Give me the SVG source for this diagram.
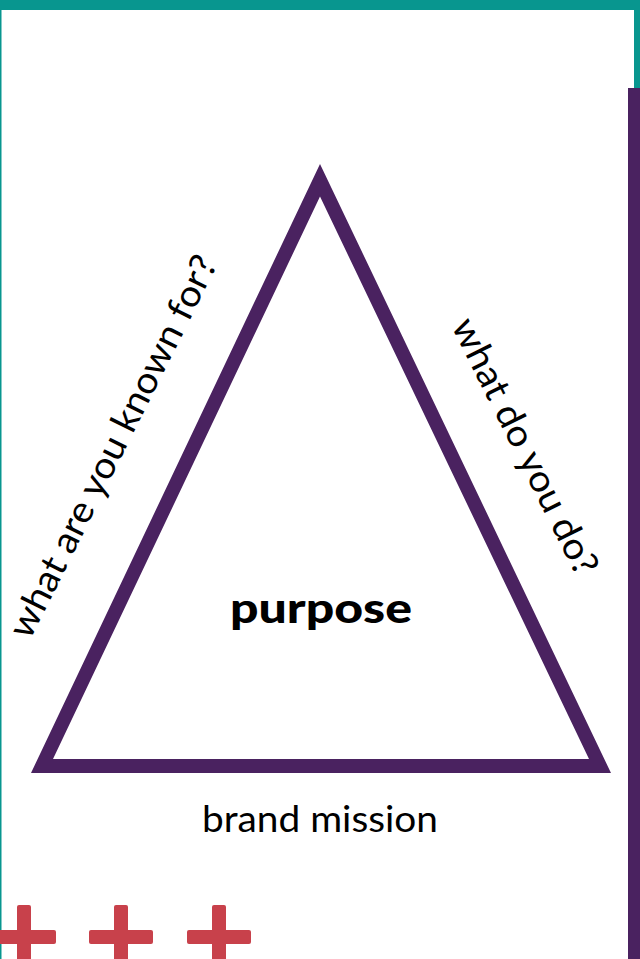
<svg xmlns="http://www.w3.org/2000/svg" width="640" height="959" viewBox="0 0 640 959">
<style>
.teal{fill:#08968F}
.purple{fill:#4A2260}
.cross{fill:#C8414B}
.lbl{font-family:Lato,"Liberation Sans",sans-serif;font-size:37px;fill:#000}
.bold{font-family:Lato,"Liberation Sans",sans-serif;font-size:41px;font-weight:900;fill:#000}
</style>
<rect width="640" height="959" fill="#fff"/>
<g id="frame">
<rect class="teal" x="0" y="0" width="640" height="10"/>
<rect class="teal" x="0" y="0" width="1.5" height="959"/>
<rect class="teal" x="634" y="0" width="6" height="88"/>
<rect class="purple" x="628" y="88" width="12" height="871"/>
</g>
<g id="triangle">
<path class="purple" fill-rule="evenodd" d="M320,164 L31,773 L611,773 Z M320,196.5 L53,759 L589,759 Z"/>
</g>
<g id="purpose"><text class="bold" x="321" y="623" text-anchor="middle" textLength="182" lengthAdjust="spacingAndGlyphs">purpose</text></g>
<g id="mission"><text class="lbl" x="320" y="832" text-anchor="middle" textLength="236" lengthAdjust="spacingAndGlyphs">brand mission</text></g>
<g id="known"><text class="lbl" transform="translate(124,452) rotate(-63.5)" x="0" y="0" text-anchor="middle" textLength="422" lengthAdjust="spacingAndGlyphs">what are you known for?</text></g>
<g id="do"><text class="lbl" transform="translate(514,452) rotate(63.5)" x="0" y="0" text-anchor="middle" textLength="282" lengthAdjust="spacingAndGlyphs">what do you do?</text></g>
<g id="crosses">
<rect class="cross" x="-8" y="930" width="64" height="14" rx="2"/>
<rect class="cross" x="17" y="905" width="14" height="64" rx="2"/>
<rect class="cross" x="89" y="930" width="64" height="14" rx="2"/>
<rect class="cross" x="114" y="905" width="14" height="64" rx="2"/>
<rect class="cross" x="187" y="930" width="64" height="14" rx="2"/>
<rect class="cross" x="212" y="905" width="14" height="64" rx="2"/>
</g>
</svg>
